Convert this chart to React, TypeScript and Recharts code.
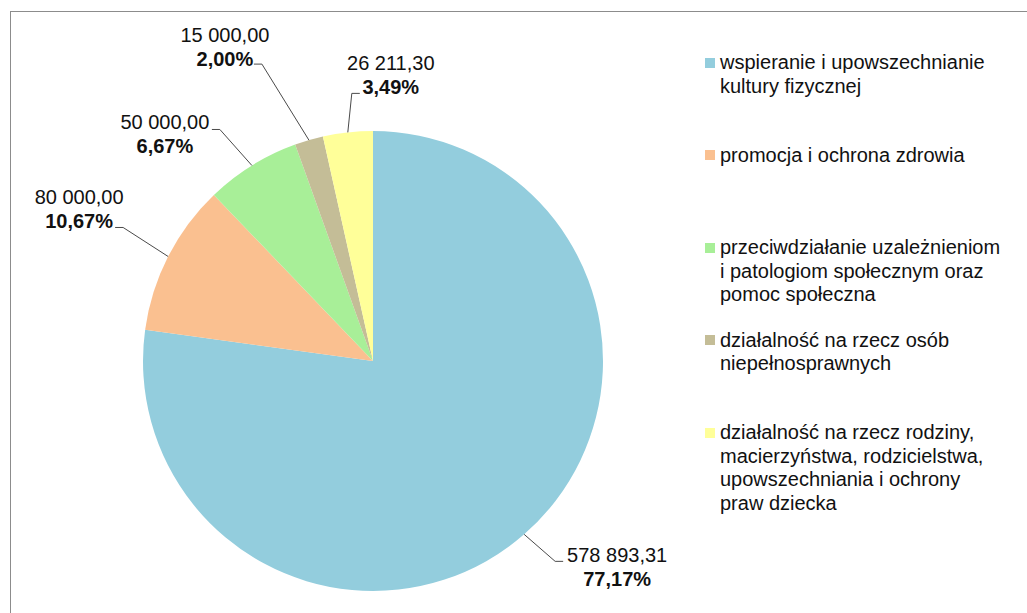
import { PieChart, Pie, Cell, Legend } from "recharts";

const CATEGORIES = [
  "wspieranie i upowszechnianie\nkultury fizycznej",
  "promocja i ochrona zdrowia",
  "przeciwdziałanie uzależnieniom\ni patologiom społecznym oraz\npomoc społeczna",
  "działalność na rzecz osób\nniepełnosprawnych",
  "działalność na rzecz rodziny,\nmacierzyństwa, rodzicielstwa,\nupowszechniania i ochrony\npraw dziecka",
];
const AMOUNTS = [578893.31, 80000, 50000, 15000, 26211.3];
const SHARES = [77.17, 10.67, 6.67, 2.0, 3.49]; // % as printed on the chart
const COLORS = ["#93CDDD", "#FAC090", "#A8EF98", "#C4BD97", "#FFFF99"];

// leader line: junction offset from slice edge, stub side, text block centre offset from junction
const LEADERS = [
  { dx: 31, dy: 27, side: 1, tx: 62, ty: 6 },
  { dx: -45, dy: -29, side: -1, tx: -44, ty: -18 },
  { dx: -32, dy: -36, side: -1, tx: -55, ty: 5 },
  { dx: -47, dy: -76, side: -1, tx: -37, ty: -17 },
  { dx: 4, dy: -39, side: 1, tx: 39, ty: -18 },
];

const data = CATEGORIES.map((name, i) => ({ name, value: AMOUNTS[i] }));

const FONT = '"Liberation Sans", Arial, sans-serif';
const FS = 20;
const RAD = Math.PI / 180;

const fmtAmount = (v: number) => {
  const [int, dec] = v.toFixed(2).split(".");
  return int.replace(/\B(?=(\d{3})+(?!\d))/g, " ") + "," + dec;
};
const fmtShare = (p: number) => p.toFixed(2).replace(".", ",") + "%";

const renderLabel = (props: any) => {
  const { cx, cy, midAngle, outerRadius, index, value } = props;
  const l = LEADERS[index];
  const ex = cx + outerRadius * Math.cos(-midAngle * RAD);
  const ey = cy + outerRadius * Math.sin(-midAngle * RAD);
  const jx = ex + l.dx;
  const jy = ey + l.dy;
  const sx = jx + l.side * 8;
  const bx = jx + l.tx;
  const by = jy + l.ty;
  return (
    <g key={`lbl-${index}`}>
      <polyline points={`${ex},${ey} ${jx},${jy} ${sx},${jy}`} fill="none" stroke="#4a4a4a" strokeWidth={1} />
      <text x={bx} y={by - 12} textAnchor="middle" dominantBaseline="central" fontFamily={FONT} fontSize={FS} fill="#111">
        {fmtAmount(value)}
      </text>
      <text x={bx} y={by + 12} textAnchor="middle" dominantBaseline="central" fontFamily={FONT} fontSize={FS} fontWeight="bold" fill="#111">
        {fmtShare(SHARES[index])}
      </text>
    </g>
  );
};

const renderLegend = () => (
  <div style={{ fontFamily: FONT, fontSize: FS, lineHeight: "23.5px", color: "#111" }}>
    {CATEGORIES.map((c, i) => (
      <div key={c} style={{ display: "flex", alignItems: "flex-start", height: 92.5 }}>
        <div style={{ width: 10, height: 10, background: COLORS[i], marginTop: 6.75, marginRight: 5, flexShrink: 0 }} />
        <div style={{ whiteSpace: "pre" }}>{c}</div>
      </div>
    ))}
  </div>
);

export default function App() {
  return (
    <div style={{ position: "absolute", left: 0, top: 0, width: 1027, height: 613, overflow: "hidden", background: "#fff" }}>
      <div style={{ position: "absolute", left: 10, top: 11, width: 1040, height: 640, border: "1px solid #8c8c8c" }} />
      <div style={{ position: "absolute", left: 0, top: 0 }}>
        <PieChart width={1027} height={613} margin={{ top: 0, right: 0, bottom: 0, left: 0 }}>
          <Pie
            data={data}
            dataKey="value"
            nameKey="name"
            cx={373}
            cy={361}
            outerRadius={230}
            startAngle={90}
            endAngle={-270}
            stroke="none"
            labelLine={false}
            label={renderLabel}
            isAnimationActive={false}
          >
            {data.map((d, i) => (
              <Cell key={d.name} fill={COLORS[i]} />
            ))}
          </Pie>
          <Legend
            content={renderLegend}
            layout="vertical"
            verticalAlign="top"
            align="right"
            wrapperStyle={{ left: 705, top: 51, width: 320 }}
          />
        </PieChart>
      </div>
    </div>
  );
}
